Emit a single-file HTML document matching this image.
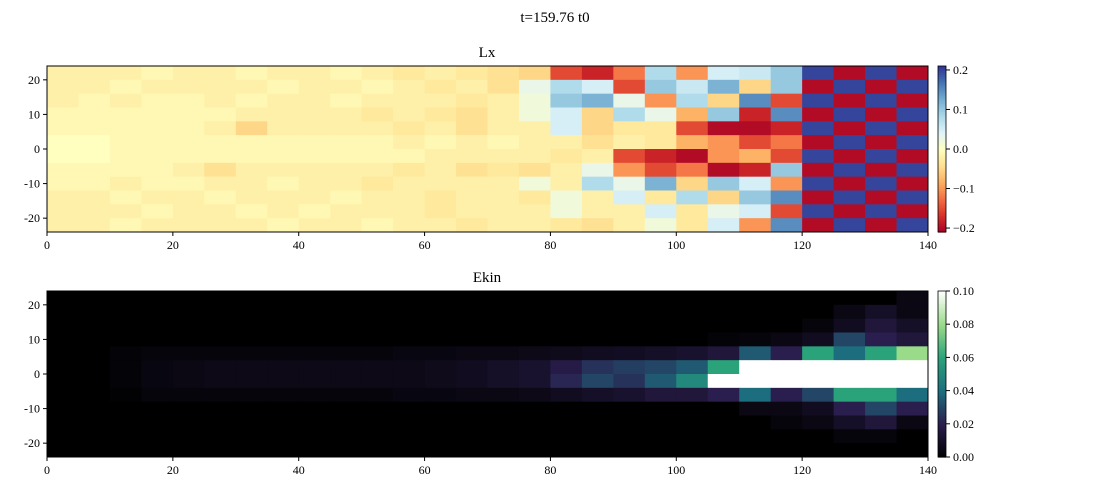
<!DOCTYPE html>
<html><head><meta charset="utf-8"><style>
body{margin:0;background:#fff;}
svg text{font-family:"Liberation Serif",serif;fill:#000;}
</style></head><body>
<svg id="fig" width="1110" height="495" xmlns="http://www.w3.org/2000/svg">
<text x="555" y="22" text-anchor="middle" font-size="15">t=159.76 t0</text>
<text x="487" y="57" text-anchor="middle" font-size="15">Lx</text>
<text x="487" y="282" text-anchor="middle" font-size="15">Ekin</text>
<g id="p1"></g>
<g id="p2"></g>
</svg>
<script>
const xTicks=[0,20,40,60,80,100,120,140];
const yTicks=[-20,-10,0,10,20];
const lxTicks=[-0.2,-0.1,0.0,0.1,0.2];
const ekTicks=[0.00,0.02,0.04,0.06,0.08,0.10];
// Lx values (hundredths), rows top (y=24) to bottom (y=-24), cols x=0..135 step 5
const lxRows=[
[-2,-2,-2,-1,-2,-2,-1,-2,-2,-1,-2,-3,-2,-3,-4,-5,-15,-18,-12,8,-10,5,6,10,20,-20,20,-20],
[-2,-2,-1,-2,-2,-2,-2,-1,-2,-2,-1,-2,-3,-2,-4,3,8,5,-15,10,6,12,-5,10,-20,20,-20,20],
[-2,-1,-2,-1,-1,-2,-1,-2,-2,-1,-2,-2,-2,-3,-2,2,10,12,3,-10,8,-5,15,-15,20,-20,20,-20],
[-1,-1,-1,-1,-1,-1,-2,-2,-2,-2,-3,-2,-3,-4,-2,2,5,-5,8,3,-8,10,-18,15,-20,20,-20,20],
[-1,-1,-1,-1,-1,-2,-5,-2,-2,-2,-2,-3,-2,-4,-2,-2,5,-5,-3,-3,-15,-20,-20,-18,20,-20,20,-20],
[0,0,-1,-1,-1,-1,-1,-1,-1,-1,-1,-2,-1,-2,-1,-2,-2,-4,-2,-3,-8,-10,-15,-12,-20,20,-20,20],
[0,0,-1,-1,-1,-1,-1,-1,-1,-1,-1,-1,-2,-2,-2,-2,-3,-2,-15,-18,-20,-10,-8,-15,20,-20,20,-20],
[-1,-1,-1,-1,-2,-4,-2,-2,-2,-2,-2,-3,-2,-4,-3,-4,-2,3,-10,-15,-12,-20,-18,10,-20,20,-20,20],
[-1,-1,-2,-1,-1,-2,-2,-1,-2,-2,-3,-2,-2,-2,-2,2,-2,8,3,12,-5,10,5,-10,20,-20,20,-20],
[-2,-2,-1,-2,-2,-1,-2,-2,-2,-1,-2,-2,-3,-2,-2,-3,2,-2,5,-3,8,-5,10,15,-20,20,-20,20],
[-2,-2,-2,-1,-2,-2,-1,-2,-1,-2,-2,-2,-3,-2,-2,-2,2,-2,-2,5,-3,3,5,-15,20,-20,20,-20],
[-2,-2,-1,-2,-2,-2,-2,-1,-2,-2,-1,-2,-2,-3,-2,-2,-3,-4,-2,2,-3,5,-10,15,-20,20,-20,20]];
// Ekin values (thousandths)
const ekRows=[
[0,0,0,0,0,0,0,0,0,0,0,0,0,0,0,0,0,0,0,0,0,0,0,0,0,0,0,5],
[0,0,0,0,0,0,0,0,0,0,0,0,0,0,0,0,0,0,0,0,0,0,0,0,0,5,10,5],
[0,0,0,0,0,0,0,0,0,0,0,0,0,0,0,0,0,0,0,0,0,0,0,0,3,8,15,10],
[0,0,0,0,0,0,0,0,0,0,0,0,0,0,0,0,0,0,0,0,0,2,3,5,8,30,20,15],
[0,0,2,3,3,3,3,3,3,3,3,4,4,5,5,6,7,8,9,10,12,15,35,20,60,40,60,80],
[0,0,2,4,5,6,6,6,6,6,6,6,7,8,10,12,18,25,28,30,35,60,100,100,100,100,100,100],
[0,0,2,4,5,6,6,6,6,6,6,6,7,8,10,12,22,30,25,35,50,100,100,100,100,100,100,100],
[0,0,1,3,3,3,3,3,3,3,3,4,4,5,5,6,8,10,12,15,15,20,40,20,30,60,60,40],
[0,0,0,0,0,0,0,0,0,0,0,0,0,0,0,0,0,0,0,0,0,0,5,5,8,20,30,20],
[0,0,0,0,0,0,0,0,0,0,0,0,0,0,0,0,0,0,0,0,0,0,0,3,5,10,15,5],
[0,0,0,0,0,0,0,0,0,0,0,0,0,0,0,0,0,0,0,0,0,0,0,0,0,3,3,0],
[0,0,0,0,0,0,0,0,0,0,0,0,0,0,0,0,0,0,0,0,0,0,0,0,0,0,0,0]];

const NS="http://www.w3.org/2000/svg";
const X0=47,X1=928,XMAX=140,YMAX=24;
function sx(v){return X0+(v/XMAX)*(X1-X0);}
function lerpC(stops,t){t=Math.max(0,Math.min(1,t));const n=stops.length-1;const i=Math.min(n-1,Math.floor(t*n));const f=t*n-i;
 const a=stops[i],b=stops[i+1];const h=s=>[parseInt(s.substr(1,2),16),parseInt(s.substr(3,2),16),parseInt(s.substr(5,2),16)];
 const A=h(a),B=h(b);return "rgb("+A.map((c,k)=>Math.round(c+(B[k]-c)*f)).join(",")+")";}
const rdylbu=["#a50026","#d73027","#f46d43","#fdae61","#fee090","#ffffbf","#e0f3f8","#abd9e9","#74add1","#4575b4","#313695"];
const ekmap=["#000000","#2a1e4e","#1c6e7e","#2aa37a","#9adb8a","#ffffff"];
function el(tag,attrs,parent){const e=document.createElementNS(NS,tag);for(const k in attrs)e.setAttribute(k,attrs[k]);parent.appendChild(e);return e;}

function panel(g,top,rows,colorFn,cbTicks,cbMin,cbMax,cbStops,fmt,prefix){
 const bot=top+166;
 const sy=v=>top+(YMAX-v)/(2*YMAX)*(bot-top);
 const nr=rows.length,nc=rows[0].length,dy=2*YMAX/nr,dx=XMAX/nc;
 rows.forEach((row,i)=>row.forEach((v,j)=>{
  const x=sx(j*dx),y=sy(YMAX-i*dy);
  const r=el("rect",{x:x,y:y,width:sx((j+1)*dx)-x+0.5,height:sy(YMAX-(i+1)*dy)-y+0.5,fill:colorFn(v)},g);
  
  
 }));
 const fr=el("rect",{x:X0,y:top,width:X1-X0,height:bot-top,fill:"none",stroke:"#000","stroke-width":1},g);
 
 
 xTicks.forEach(t=>{const x=sx(t);el("line",{x1:x,x2:x,y1:bot,y2:bot+4,stroke:"#000"},g);
  const tx=el("text",{x:x,y:bot+17,"text-anchor":"middle","font-size":12},g);tx.textContent=t;
  
  });
 yTicks.forEach(t=>{const y=sy(t);el("line",{x1:X0-4,x2:X0,y1:y,y2:y,stroke:"#000"},g);
  const tx=el("text",{x:X0-7,y:y+4,"text-anchor":"end","font-size":12},g);tx.textContent=t;
  
  });
 const cx=938,cw=8,N=80;
 for(let k=0;k<N;k++){const t0=k/N;const y=bot-(k+1)/N*(bot-top);
  const r=el("rect",{x:cx,y:y,width:cw,height:(bot-top)/N+0.6,fill:lerpC(cbStops,t0+0.5/N)},g);
  
  }
 el("rect",{x:cx,y:top,width:cw,height:bot-top,fill:"none",stroke:"#000","stroke-width":0.8},g);
 cbTicks.forEach(t=>{const y=bot-(t-cbMin)/(cbMax-cbMin)*(bot-top);
  el("line",{x1:cx+cw,x2:cx+cw+4,y1:y,y2:y,stroke:"#000"},g);
  const tx=el("text",{x:cx+cw+7,y:y+4,"font-size":12},g);tx.textContent=fmt(t);
  
  });
}
panel(document.getElementById("p1"),66,lxRows,v=>lerpC(rdylbu,(v/100+0.21)/0.42),lxTicks,-0.21,0.21,rdylbu,
 t=>(t<0?"\u2212":"")+Math.abs(t).toFixed(1),"lx");
panel(document.getElementById("p2"),291,ekRows,v=>lerpC(ekmap,v/100),ekTicks,0,0.1,ekmap,t=>t.toFixed(2),"ekin");
</script>
</body></html>
